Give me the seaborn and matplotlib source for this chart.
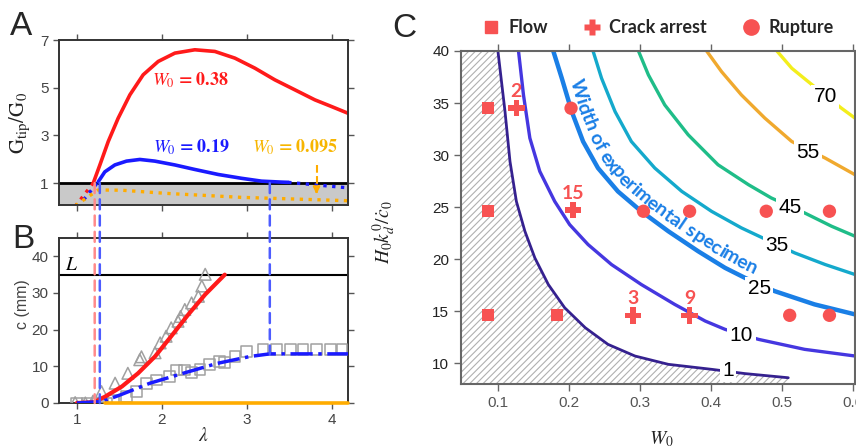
import numpy as np
import matplotlib
matplotlib.use("Agg")
import matplotlib.pyplot as plt
from matplotlib.lines import Line2D
from matplotlib.patches import ConnectionPatch
import seaborn as sns

# ---------------- Panel A: G_tip/G_0 versus stretch lambda
A_LAM_038 = [1.192, 1.271, 1.369, 1.486, 1.624, 1.780, 1.957, 2.153, 2.388, 2.624,
             2.859, 3.094, 3.329, 3.565, 3.800, 3.996, 4.188]
A_G_038 = [0.99, 1.76, 2.74, 3.72, 4.70, 5.54, 6.10, 6.45, 6.59, 6.52,
           6.24, 5.82, 5.33, 4.91, 4.49, 4.21, 3.93]
A_LAM_038_PRE = [0.98, 1.19]
A_G_038_PRE = [0.02, 0.99]

A_LAM_019 = [1.251, 1.329, 1.447, 1.584, 1.741, 1.918, 2.153, 2.388, 2.663,
             2.937, 3.173, 3.408, 3.486]
A_G_019 = [1.05, 1.47, 1.76, 1.92, 1.99, 1.92, 1.76, 1.57, 1.36,
           1.20, 1.08, 1.04, 1.03]
A_LAM_019_PRE = [1.08, 1.25]
A_G_019_PRE = [0.30, 1.05]
A_LAM_019_TAIL = [3.486, 4.19]
A_G_019_TAIL = [1.03, 0.80]

A_LAM_0095 = [0.98, 1.25, 1.53, 2.04, 2.94, 4.19]
A_G_0095 = [0.05, 0.71, 0.70, 0.57, 0.40, 0.26]

# ---------------- Panel B: crack length c (mm) versus lambda
B_LAM_RED = [1.00, 1.20, 1.33, 1.53, 1.72, 1.92, 2.11, 2.31, 2.51, 2.74]
B_C_RED = [0.0, 0.2, 1.7, 4.5, 8.1, 12.7, 18.2, 24.1, 29.6, 35.0]
B_LAM_BLUE = [1.00, 1.30, 1.51, 1.86, 2.25, 2.65, 3.04, 3.27, 4.19]
B_C_BLUE = [0.0, 0.4, 2.2, 5.4, 8.1, 10.8, 12.7, 13.4, 13.4]
B_LAM_ORANGE = [1.33, 4.19]
B_C_ORANGE = [0.0, 0.0]

B_TRI_LAM = [0.98, 1.10, 1.19, 1.29, 1.45, 1.60, 1.74, 1.76, 1.92, 1.98, 2.05,
             2.11, 2.19, 2.22, 2.27, 2.35, 2.43, 2.47, 2.51]
B_TRI_C = [0.1, 0.0, 0.5, 3.1, 5.4, 8.1, 11.8, 12.6, 13.7, 16.4, 18.2,
           20.5, 22.3, 23.6, 25.5, 27.3, 29.1, 31.9, 35.1]
B_SQ_LAM = [1.00, 1.12, 1.24, 1.35, 1.43, 1.58, 1.70, 1.82, 1.94, 2.09, 2.17,
            2.27, 2.35, 2.45, 2.56, 2.68, 2.74, 2.86, 3.00, 3.19, 3.35, 3.51,
            3.66, 3.82, 3.98, 4.12]
B_SQ_C = [0.0, 0.0, 0.0, 0.0, 0.8, 1.7, 3.1, 5.4, 6.3, 7.2, 9.0,
          9.0, 8.3, 9.2, 10.4, 11.3, 11.0, 12.7, 14.1, 14.5, 14.5, 14.5,
          14.5, 14.5, 14.5, 14.5]

L_CRACK = 35
LAM_ONSET_038 = 1.21
LAM_ONSET_019 = 1.27
LAM_ARREST_019 = 3.27
C_ARREST_019 = 13.4
LAM_ARROW_0095 = 3.82

# ---------------- Panel C: phase diagram W_0 vs H_0 k_d^0 / c_dot_0
FLOW_W = [0.086, 0.086, 0.086, 0.183]
FLOW_H = [34.5, 24.6, 14.6, 14.6]
ARREST_W = [0.126, 0.206, 0.290, 0.370]
ARREST_H = [34.5, 24.7, 14.6, 14.6]
ARREST_NUM = ["2", "15", "3", "9"]
RUPTURE_W = [0.203, 0.305, 0.370, 0.478, 0.567, 0.511, 0.567]
RUPTURE_H = [34.5, 24.6, 24.6, 24.6, 24.6, 14.6, 14.6]

CONTOUR_LEVELS = [1, 10, 25, 35, 45, 55, 70]
CONTOUR_W = {
    1: [0.100, 0.110, 0.117, 0.126, 0.138, 0.152, 0.171, 0.194, 0.223, 0.255,
        0.293, 0.340, 0.401, 0.448, 0.509],
    10: [0.129, 0.136, 0.145, 0.159, 0.180, 0.201, 0.227, 0.260, 0.302, 0.349,
         0.392, 0.420, 0.467, 0.532, 0.603],
    25: [0.178, 0.190, 0.204, 0.220, 0.241, 0.269, 0.302, 0.340, 0.382, 0.420,
         0.448, 0.490, 0.546, 0.603],
    35: [0.234, 0.246, 0.265, 0.288, 0.321, 0.359, 0.401, 0.443, 0.471, 0.518,
         0.561, 0.603],
    45: [0.298, 0.312, 0.335, 0.368, 0.410, 0.453, 0.485, 0.532, 0.570, 0.603],
    55: [0.394, 0.415, 0.443, 0.476, 0.514, 0.561, 0.603],
    70: [0.493, 0.514, 0.537, 0.584, 0.603],
}
CONTOUR_H = {
    1: [40.0, 34.18, 29.39, 25.55, 22.68, 20.12, 17.56, 15.33, 13.41, 11.81,
        10.69, 9.89, 9.41, 9.0, 8.6],
    10: [40.0, 35.78, 31.63, 28.43, 25.55, 23.32, 21.40, 19.48, 17.56, 15.65,
         14.05, 13.25, 12.29, 11.33, 10.69],
    25: [40.0, 37.38, 34.18, 31.30, 28.75, 26.51, 24.59, 22.68, 20.76, 19.16,
         18.20, 16.92, 15.65, 14.69],
    35: [40.0, 37.38, 34.18, 31.30, 28.75, 26.51, 24.59, 23.0, 22.10, 20.60,
         19.48, 18.52],
    45: [40.0, 37.70, 34.82, 31.95, 29.07, 27.15, 25.88, 24.44, 23.16, 22.20],
    55: [40.0, 38.02, 35.78, 33.55, 31.30, 29.71, 28.11],
    70: [40.0, 38.34, 37.06, 34.50, 33.55],
}
LABEL_W = [0.424, 0.443, 0.468, 0.493, 0.511, 0.537, 0.561]
LABEL_H = [9.32, 12.7, 17.15, 21.3, 24.92, 30.29, 35.62]
CONTOUR_COLORS = ["#35218f", "#4537e0", "#1a7fe6", "#14a9cc", "#1fbd88", "#f0a92e", "#f3ee1c"]
CONTOUR_LW = [2.0, 2.4, 3.2, 2.4, 2.4, 2.4, 2.4]
SPECIMEN_TEXT = "Width of experimental specimen"

RED = "#ff1a1a"
BLUE = "#1a1aff"
ORANGE = "#ffac00"
MARK = "#f75252"
GRAY_MARK = "#a0a0a0"

W, H = 856, 447


def px_rect(left, top, right, bottom):
    return [left / W, 1 - bottom / H, (right - left) / W, (bottom - top) / H]


def style_ab(ax):
    ax.set_xlim(0.79, 4.19)
    for s in ax.spines.values():
        s.set_visible(True)
        s.set_color("#333333")
        s.set_linewidth(1.4)
    ax.tick_params(direction="out", length=4, width=1, colors="#555555",
                   top=True, right=True, labelsize=11, labelcolor="#444444")
    ax.set_xticks([1, 2, 3, 4])


def text_along(ax, xs, ys, text, start, offset, **kw):
    """Place text character by character along a polyline (display space)."""
    renderer = ax.figure.canvas.get_renderer()
    pts = ax.transData.transform(np.column_stack([xs, ys]))
    arc = np.concatenate([[0], np.cumsum(np.hypot(*np.diff(pts, axis=0).T))])

    def at(s):
        return np.array([np.interp(s, arc, pts[:, 0]), np.interp(s, arc, pts[:, 1])])

    def width(t):
        tmp = ax.text(0, 0, t, **kw)
        w = tmp.get_window_extent(renderer).width
        tmp.remove()
        return w

    base = width("xx")
    s = start
    for ch in text:
        w = width("x" + ch + "x") - base
        mid = s + w / 2
        d = at(mid + 10) - at(mid - 10)
        d = d / np.hypot(*d)
        n = np.array([-d[1], d[0]])
        p = at(mid) + n * offset - d * w / 2
        x, y = ax.transData.inverted().transform(p)
        ax.text(x, y, ch, rotation=np.degrees(np.arctan2(d[1], d[0])),
                rotation_mode="anchor", ha="left", va="baseline", **kw)
        s += w


sns.set_theme(style="ticks")
plt.rcParams["font.family"] = ["Liberation Sans", "DejaVu Sans"]
plt.rcParams["mathtext.fontset"] = "stix"
plt.rcParams["hatch.linewidth"] = 0.8
plt.rcParams["hatch.color"] = "#b0b0b0"

fig = plt.figure(figsize=(W / 100, H / 100), dpi=100)
ax_a = fig.add_axes(px_rect(59, 40, 348, 205))
ax_b = fig.add_axes(px_rect(59, 238, 348, 403))
ax_c = fig.add_axes(px_rect(461, 51, 855, 384))

# ---------------- A
style_ab(ax_a)
ax_a.set_ylim(0.08, 7)
ax_a.set_yticks([1, 3, 5, 7])
ax_a.tick_params(labelbottom=False)
ax_a.axhspan(0, 1, color="#c9c9c9", zorder=0)
ax_a.axhline(1, color="black", lw=2, zorder=2)
sns.lineplot(x=A_LAM_038, y=A_G_038, ax=ax_a, color=RED, lw=2.6, sort=False, estimator=None)
sns.lineplot(x=A_LAM_019, y=A_G_019, ax=ax_a, color=BLUE, lw=2.6, sort=False, estimator=None)
sns.lineplot(x=A_LAM_038_PRE, y=A_G_038_PRE, ax=ax_a, color=RED, lw=2.4, linestyle=":", sort=False, estimator=None)
sns.lineplot(x=A_LAM_019_PRE, y=A_G_019_PRE, ax=ax_a, color=BLUE, lw=2.4, linestyle=":", sort=False, estimator=None)
sns.lineplot(x=A_LAM_019_TAIL, y=A_G_019_TAIL, ax=ax_a, color=BLUE, lw=2.4, linestyle=":", sort=False, estimator=None)
sns.lineplot(x=A_LAM_0095, y=A_G_0095, ax=ax_a, color=ORANGE, lw=2.4, linestyle=":", sort=False, estimator=None)
ax_a.plot([LAM_ARROW_0095, LAM_ARROW_0095], [1.75, 0.75], color=ORANGE, lw=1.5, ls="--")
ax_a.annotate("", xy=(LAM_ARROW_0095, 0.42), xytext=(LAM_ARROW_0095, 0.8),
              arrowprops=dict(arrowstyle="-|>", color=ORANGE, lw=1.5, mutation_scale=10))
ax_a.text(1.88, 5.3, r"$\boldsymbol{W_0\,=\,0.38}$", color=RED, fontsize=13, va="center")
ax_a.text(1.90, 2.5, r"$\boldsymbol{W_0\,=\,0.19}$", color=BLUE, fontsize=13, va="center")
ax_a.text(3.06, 2.5, r"$\boldsymbol{W_0\,=\,0.095}$", color="#f7b500", fontsize=13, va="center")
ax_a.set_xlabel("")
ax_a.set_ylabel(r"$\mathrm{G_{tip}/G_0}$", fontsize=15, color="#222222")
ax_a.yaxis.set_label_coords(-0.095, 0.5)

# ---------------- B
style_ab(ax_b)
ax_b.set_ylim(0, 45)
ax_b.set_yticks([0, 10, 20, 30, 40])
ax_b.axhline(L_CRACK, color="black", lw=1.5)
ax_b.text(0.86, L_CRACK + 1.2, r"$L$", fontsize=14, color="black")
sns.scatterplot(x=B_TRI_LAM, y=B_TRI_C, ax=ax_b, marker="^", s=70,
                facecolor="none", edgecolor=GRAY_MARK, linewidth=1.1, zorder=3)
sns.scatterplot(x=B_SQ_LAM, y=B_SQ_C, ax=ax_b, marker="s", s=60,
                facecolor="none", edgecolor=GRAY_MARK, linewidth=1.1, zorder=3)
sns.lineplot(x=B_LAM_RED, y=B_C_RED, ax=ax_b, color=RED, lw=3, sort=False, estimator=None, zorder=4)
sns.lineplot(x=B_LAM_BLUE, y=B_C_BLUE, ax=ax_b, color=BLUE, lw=2.5, linestyle="-.", sort=False, estimator=None, zorder=4)
sns.lineplot(x=B_LAM_ORANGE, y=B_C_ORANGE, ax=ax_b, color=ORANGE, lw=2.6, sort=False, estimator=None, zorder=4,
             clip_on=False)
ax_b.set_xlabel(r"$\lambda$", fontsize=14, color="#222222")
ax_b.xaxis.set_label_coords(0.5, -0.145)
ax_b.set_ylabel("c (mm)", fontsize=11.5, color="#444444")
ax_b.yaxis.set_label_coords(-0.10, 0.6)

# dashed guides linking A and B
for lam, c_end, col in [(LAM_ONSET_038, 0, "#ff8a8a"), (LAM_ONSET_019, 0, "#4d5cff"),
                        (LAM_ARREST_019, C_ARREST_019, "#4d5cff")]:
    con = ConnectionPatch(xyA=(lam, 1), coordsA=ax_a.transData, xyB=(lam, c_end),
                          coordsB=ax_b.transData, color=col, lw=1.8, ls=(0, (4, 2.5)), zorder=5)
    fig.add_artist(con)

# ---------------- C
ax_c.set_xlim(0.048, 0.603)
ax_c.set_ylim(8.0, 40)
ax_c.set_xticks([0.1, 0.2, 0.3, 0.4, 0.5, 0.6])
ax_c.set_xticklabels(["0.1", "0.2", "0.3", "0.4", "0.5", "0.6"])
ax_c.set_yticks([10, 15, 20, 25, 30, 35, 40])
for s in ax_c.spines.values():
    s.set_visible(True)
    s.set_color("#666666")
    s.set_linewidth(1.5)
ax_c.tick_params(direction="out", length=5, width=1, colors="#666666", top=True,
                 labelsize=11, labelcolor="#222222")
for t in ax_c.get_xticklabels():
    t.set_color("#555555")

hatch_w = [0.048] + CONTOUR_W[1] + [0.509, 0.048]
hatch_h = [40.0] + CONTOUR_H[1] + [8.0, 8.0]
ax_c.fill(hatch_w, hatch_h, facecolor="white", edgecolor="#b0b0b0", hatch="/////", lw=0, zorder=0)

for lev, col, lw_, xl, yl in zip(CONTOUR_LEVELS, CONTOUR_COLORS, CONTOUR_LW, LABEL_W, LABEL_H):
    sns.lineplot(x=CONTOUR_W[lev], y=CONTOUR_H[lev], ax=ax_c, color=col, lw=lw_,
                 sort=False, estimator=None, zorder=2)
    ax_c.text(xl, yl, str(lev), fontsize=15, ha="center", va="center", color="black", zorder=4,
              bbox=dict(boxstyle="square,pad=0.12", fc="white", ec="none"))

sns.scatterplot(x=FLOW_W, y=FLOW_H, ax=ax_c, marker="s", s=78, color=MARK, edgecolor="none", zorder=5)
sns.scatterplot(x=ARREST_W, y=ARREST_H, ax=ax_c, marker="P", s=140, color=MARK, edgecolor="none", zorder=5)
sns.scatterplot(x=RUPTURE_W, y=RUPTURE_H, ax=ax_c, marker="o", s=92, color=MARK, edgecolor="none", zorder=5)
for w_, h_, lab in zip(ARREST_W, ARREST_H, ARREST_NUM):
    ax_c.text(w_, h_ + 1.1, lab, color=MARK, fontsize=14, fontweight="bold", family="Lato",
              ha="center", va="baseline", zorder=5)

handles = [Line2D([], [], ls="none", marker="s", ms=9, color=MARK),
           Line2D([], [], ls="none", marker="P", ms=12, color=MARK, mec="none"),
           Line2D([], [], ls="none", marker="o", ms=11, color=MARK)]
ax_c.legend(handles, ["Flow", "Crack arrest", "Rupture"], ncol=3, loc="center",
            bbox_to_anchor=(0.500, 1.07), frameon=False, handlelength=1.0,
            handletextpad=0.45, columnspacing=1.95, borderaxespad=0,
            prop=dict(family="Lato", weight="bold", size=13))

ax_c.set_xlabel(r"$W_0$", fontsize=14, color="#222222")
ax_c.xaxis.set_label_coords(0.508, -0.135)
ax_c.set_ylabel(r"$H_0k_d^0/\dot{c}_0$", fontsize=14, color="#222222")
ax_c.yaxis.set_label_coords(-0.16, 0.456)

text_along(ax_c, CONTOUR_W[25], CONTOUR_H[25], SPECIMEN_TEXT, start=33, offset=7,
           fontsize=14, fontweight="bold", family="Lato", color="#1a7fe6", zorder=4)

# panel letters
fig.text(10 / W, 1 - 35 / H, "A", fontsize=24, va="baseline")
fig.text(12 / W, 1 - 248 / H, "B", fontsize=24, va="baseline")
fig.text(392 / W, 1 - 37 / H, "C", fontsize=24, va="baseline")

fig.savefig("out.png", dpi=100)
